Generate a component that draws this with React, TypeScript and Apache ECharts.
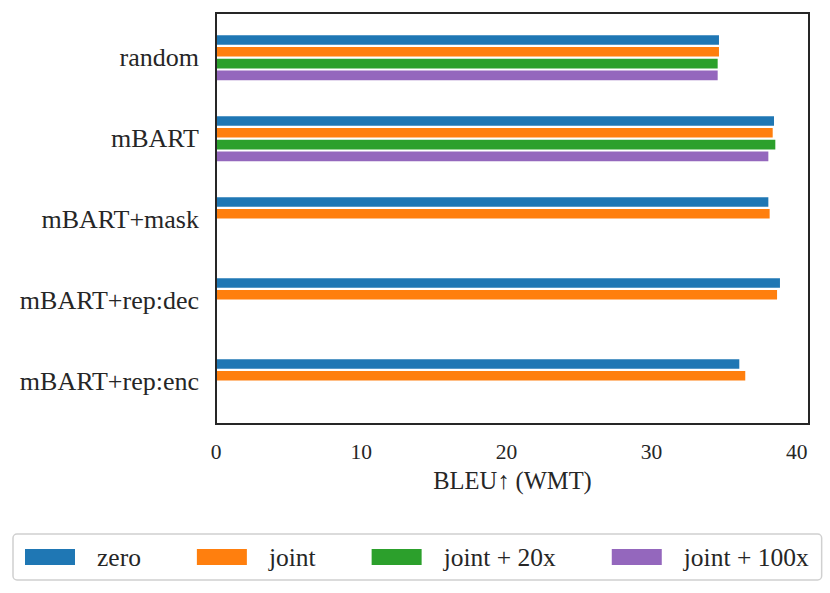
import React, { useEffect, useRef } from "react";
import * as echarts from "echarts";

const categories = ["random", "mBART", "mBART+mask", "mBART+rep:dec", "mBART+rep:enc"];
const seriesNames = ["zero", "joint", "joint + 20x", "joint + 100x"];
const zeroVals = [34.64, 38.43, 38.04, 38.84, 36.04];
const jointVals = [34.64, 38.34, 38.13, 38.64, 36.45];
const joint20Vals = [34.55, 38.52, null, null, null];
const joint100Vals = [34.55, 38.04, null, null, null];
const xTicks = [0, 10, 20, 30, 40];
const colors = ["#1f77b4", "#ff7f0e", "#2ca02c", "#9467bd"];

const FONT = "'Liberation Serif', 'DejaVu Serif', serif";
const TXT = "#262626";

export default function App() {
  const ref = useRef<HTMLDivElement>(null);
  useEffect(() => {
    if (!ref.current) return;
    const chart = echarts.init(ref.current, undefined, { renderer: "svg" });
    const data = [zeroVals, jointVals, joint20Vals, joint100Vals];
    chart.setOption({
      animation: false,
      textStyle: { fontFamily: FONT, color: TXT },
      grid: { left: 216, right: 21, top: 17.2, height: 405, containLabel: false },
      xAxis: {
        type: "value",
        min: 0,
        max: 40.84,
        interval: 10,
        name: "BLEU\u2191 (WMT)",
        nameLocation: "middle",
        nameGap: 45,
        nameTextStyle: { fontFamily: FONT, fontSize: 24.5, color: TXT },
        axisLine: { show: false },
        axisTick: { show: false },
        splitLine: { show: false },
        axisLabel: {
          fontFamily: FONT,
          fontSize: 21.5,
          color: TXT,
          margin: 19,
          showMaxLabel: false,
          formatter: (v: number) => (xTicks.indexOf(v) >= 0 ? String(v) : ""),
        },
      },
      yAxis: {
        type: "category",
        data: categories,
        inverse: true,
        axisLine: { show: false },
        axisTick: { show: false },
        splitLine: { show: false },
        axisLabel: { fontFamily: FONT, fontSize: 26, color: TXT, margin: 17 },
      },
      legend: {
        left: 13,
        top: 534,
        data: seriesNames,
        icon: "rect",
        itemWidth: 50,
        itemHeight: 16,
        itemGap: 56,
        padding: [10, 13, 10, 12],
        borderColor: "#d0d0d0",
        borderWidth: 1.5,
        borderRadius: 4,
        backgroundColor: "#fff",
        textStyle: { fontFamily: FONT, fontSize: 25.5, color: TXT, padding: [0, 0, 0, 17] },
      },
      graphic: [
        {
          type: "rect",
          z: 100,
          shape: { x: 216, y: 13, width: 593, height: 411 },
          style: { fill: "none", stroke: "#262626", lineWidth: 2 },
        },
      ],
      series: seriesNames.map((n, i) => ({
        type: "bar",
        name: n,
        data: data[i],
        barWidth: 9.6,
        barGap: "23%",
        itemStyle: { color: colors[i] },
      })),
    });
    return () => chart.dispose();
  }, []);
  return (
    <div
      ref={ref}
      style={{ position: "fixed", left: 0, top: 0, width: 830, height: 593, background: "#fff" }}
    />
  );
}
